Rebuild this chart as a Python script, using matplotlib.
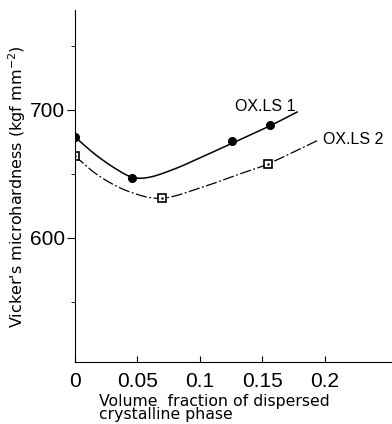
# microdureza Vickers frente a fraccion de volumen cristalina
import matplotlib.pyplot as plt
import numpy as np

# puntos medidos
x_ls1 = [0.0, 0.046, 0.126, 0.156]
y_ls1 = [679, 647, 676, 688]
x_ls2 = [0.0, 0.0696, 0.155]
y_ls2 = [664, 631, 658]

# curvas trazadas a mano
cx_ls1 = [0.0, 0.016, 0.032, 0.046, 0.06, 0.08, 0.1, 0.126, 0.156, 0.178]
cy_ls1 = [679, 665.5, 654.5, 647.5, 647.5, 654, 662.5, 674, 687.5, 698.4]
cx_ls2 = [0.0, 0.02, 0.044, 0.0696, 0.1, 0.132, 0.155, 0.194]
cy_ls2 = [664, 648, 636, 631, 639, 650, 658, 676]

xticks = [0, 0.05, 0.1, 0.15, 0.2]
xtick_labels = ['0', '0.05', '0.1', '0.15', '0.2']
yticks = [600, 700]

fuente = ['Liberation Sans', 'DejaVu Sans']


def suavizar(xs, ys, n=20):
    # catmull-rom sencillo entre los puntos leidos
    xs = np.array(xs, float)
    ys = np.array(ys, float)
    px = np.concatenate([[2 * xs[0] - xs[1]], xs, [2 * xs[-1] - xs[-2]]])
    py = np.concatenate([[2 * ys[0] - ys[1]], ys, [2 * ys[-1] - ys[-2]]])
    outx, outy = [], []
    t = np.linspace(0, 1, n, endpoint=False)
    for i in range(1, len(px) - 2):
        for p, out in ((px, outx), (py, outy)):
            p0, p1, p2, p3 = p[i - 1], p[i], p[i + 1], p[i + 2]
            out.extend(0.5 * (2 * p1 + (-p0 + p2) * t + (2 * p0 - 5 * p1 + 4 * p2 - p3) * t ** 2
                              + (-p0 + 3 * p1 - 3 * p2 + p3) * t ** 3))
    outx.append(xs[-1])
    outy.append(ys[-1])
    return outx, outy


fig = plt.figure(figsize=(3.92, 4.24), dpi=100)
ax = fig.add_axes([0.191, 0.146, 0.809, 0.83])

sx, sy = suavizar(cx_ls1, cy_ls1)
ax.plot(sx, sy, color='black', lw=1.1)
sx, sy = suavizar(cx_ls2, cy_ls2)
ax.plot(sx, sy, color='black', lw=0.9, linestyle=(0, (9, 2, 1.5, 2)))

ax.plot(x_ls1, y_ls1, 'o', color='black', markersize=5.5)
ax.plot(x_ls2, y_ls2, 's', color='black', markersize=5.5, markerfacecolor='white', markeredgewidth=1.2)
ax.plot(x_ls2, y_ls2, '.', color='black', markersize=1.5)

ax.text(0.128, 699, 'OX.LS 1', fontsize=11.5, family=fuente, ha='left', va='baseline')
ax.text(0.199, 677, 'OX.LS 2', fontsize=11.5, family=fuente, ha='left', va='center')

ax.set_xlim(0, 0.254)
ax.set_ylim(503, 778)
ax.set_xticks(xticks)
ax.set_xticklabels(xtick_labels, fontsize=15, family=fuente)
ax.set_yticks(yticks)
ax.set_yticklabels([str(v) for v in yticks], fontsize=15, family=fuente)
ax.set_yticks([550, 650, 750], minor=True)
ax.tick_params(axis='x', direction='in', length=4, pad=7)
ax.tick_params(axis='y', direction='out', length=6, pad=1)
ax.tick_params(axis='y', which='minor', direction='out', length=3)

for s in ['top', 'right']:
    ax.spines[s].set_visible(False)

fig.text(0.253, 0.07, 'Volume  fraction of dispersed\ncrystalline phase', fontsize=11.3,
         ha='left', va='top', linespacing=0.8)
fig.text(0.045, 0.56, "Vicker's microhardness (kgf mm$^{-2}$)", fontsize=11.5,
         rotation=90, ha='center', va='center')

plt.savefig('out.png', dpi=100)
